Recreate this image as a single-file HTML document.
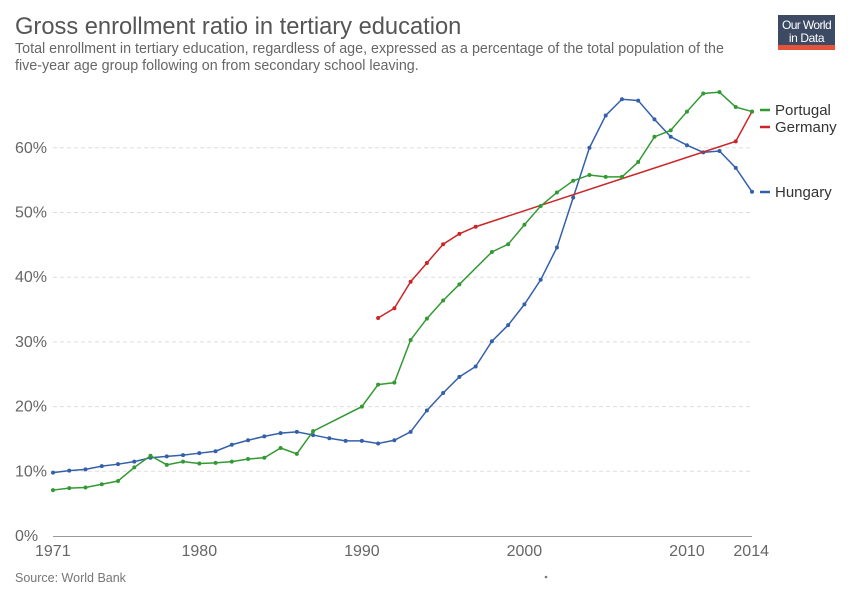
<!DOCTYPE html>
<html><head><meta charset="utf-8"><style>
body{margin:0;background:#fff;font-family:"Liberation Sans",sans-serif;}
#wrap{position:relative;width:850px;height:600px;overflow:hidden;}
</style></head><body>
<div id="wrap">
<svg id="svg" width="850" height="600" xmlns="http://www.w3.org/2000/svg">
<text x="15" y="34" font-size="23.7" fill="#555">Gross enrollment ratio in tertiary education</text>
<text x="15" y="53" font-size="14.3" fill="#666">Total enrollment in tertiary education, regardless of age, expressed as a percentage of the total population of the</text>
<text x="15" y="70" font-size="14.3" fill="#666">five-year age group following on from secondary school leaving.</text>
<g>
<rect x="778" y="15" width="57" height="35" fill="#3d4a64"/>
<rect x="778" y="45" width="57" height="5" fill="#e5533b"/>
<text x="806.5" y="29" font-size="12" fill="#fff" text-anchor="middle" letter-spacing="-0.6">Our World</text>
<text x="806.5" y="42" font-size="12" fill="#fff" text-anchor="middle" letter-spacing="-0.4">in Data</text>
</g>
<g id="grid"></g><g id="axes"></g><g id="series"></g><g id="legend"></g>
<text x="15" y="582" font-size="12.5" fill="#777">Source: World Bank</text>
<circle cx="546" cy="577" r="1.3" fill="#777"/>
</svg>
</div>
<script>
const yTicks=[0,10,20,30,40,50,60];
const xTicks=[1971,1980,1990,2000,2010,2014];
const hunYears=[1971,1972,1973,1974,1975,1976,1977,1978,1979,1980,1981,1982,1983,1984,1985,1986,1987,1988,1989,1990,1991,1992,1993,1994,1995,1996,1997,1998,1999,2000,2001,2002,2003,2004,2005,2006,2007,2008,2009,2010,2011,2012,2013,2014];
const hunVals=[9.8,10.1,10.3,10.8,11.1,11.5,12.1,12.3,12.5,12.8,13.1,14.1,14.8,15.4,15.9,16.1,15.6,15.1,14.7,14.7,14.3,14.8,16.1,19.4,22.1,24.6,26.2,30.1,32.6,35.8,39.6,44.6,52.3,60.0,65.0,67.5,67.3,64.4,61.7,60.4,59.3,59.5,56.9,53.2];
const porYears=[1971,1972,1973,1974,1975,1976,1977,1978,1979,1980,1981,1982,1983,1984,1985,1986,1987,1990,1991,1992,1993,1994,1995,1996,1998,1999,2000,2001,2002,2003,2004,2005,2006,2007,2008,2009,2010,2011,2012,2013,2014];
const porVals=[7.1,7.4,7.5,8.0,8.5,10.6,12.4,11.0,11.5,11.2,11.3,11.5,11.9,12.1,13.6,12.7,16.2,20.0,23.4,23.7,30.3,33.6,36.4,38.9,43.9,45.1,48.1,51.0,53.1,54.9,55.8,55.5,55.5,57.8,61.7,62.7,65.6,68.4,68.6,66.3,65.6];
const gerYears=[1991,1992,1993,1994,1995,1996,1997,2013,2014];
const gerVals=[33.7,35.2,39.3,42.2,45.1,46.7,47.8,61.0,65.6];
const NS="http://www.w3.org/2000/svg";
const x=y=>53+(y-1971)*(752-53)/43;
const yv=v=>536-v*6.47;
function mk(tag,at,parent){const e=document.createElementNS(NS,tag);for(const k in at)e.setAttribute(k,at[k]);parent.appendChild(e);return e;}
const grid=document.getElementById('grid'),axes=document.getElementById('axes'),ser=document.getElementById('series'),leg=document.getElementById('legend');
yTicks.forEach(t=>{
 if(t>0){const l=mk('line',{x1:53,x2:752,y1:yv(t),y2:yv(t),stroke:'#ddd','stroke-dasharray':'4,3'},grid);
 
 }
 const tx=mk('text',{x:15,y:yv(t)+5,'font-size':16,fill:'#666'},axes);tx.textContent=t+'%';
 
 
});
const ax=mk('line',{x1:53,x2:752,y1:536.5,y2:536.5,stroke:'#999'},axes);


xTicks.forEach((t,i)=>{
 const anchor=i==0?'start':(i==xTicks.length-1?'end':'middle');
 const dx=i==0?-18:(i==xTicks.length-1?17:0);
 const tx=mk('text',{x:x(t)+dx,y:556,'font-size':16,fill:'#666','text-anchor':anchor},axes);tx.textContent=t;
 
 
});
function draw(name,years,vals,color){
 const g=mk('g',{},ser);
 
 
 mk('polyline',{points:years.map((y,i)=>x(y)+','+yv(vals[i])).join(' '),fill:'none',stroke:color,'stroke-width':1.5},g);
 years.forEach((y,i)=>{const c=mk('circle',{cx:x(y),cy:yv(vals[i]),r:2,fill:color},g);
  
  });
}
draw('hungary',hunYears,hunVals,'#3360a9');
draw('germany',gerYears,gerVals,'#ca2628');
draw('portugal',porYears,porVals,'#339933');
[['Portugal','#339933',110],['Germany','#ca2628',127],['Hungary','#3360a9',192]].forEach(d=>{
 const g=mk('g',{},leg);
 
 
 mk('line',{x1:760,x2:770,y1:d[2],y2:d[2],stroke:d[1],'stroke-width':2.5},g);
 const t=mk('text',{x:775,y:d[2]+5,'font-size':15,fill:'#333'},g);t.textContent=d[0];
});
</script>
</body></html>
